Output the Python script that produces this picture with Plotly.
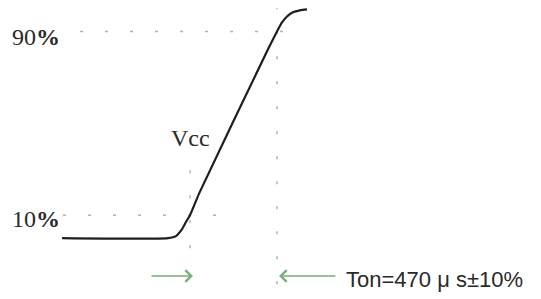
import plotly.graph_objects as go

# Rising edge of Vcc: time (us) vs level (% of Vcc)
t_us = [-691, -119, -76, -43, -22, 0, 50, 420, 470, 497, 524, 556, 594, 632]
vcc_pct = [0, 0, 0.9, 3.9, 7.0, 10, 19.6, 82, 90, 93.9, 96.5, 98.3, 99.2, 99.6]

# Guide levels / times
level_lo, level_hi = 10, 90
t_lo, t_hi = 0, 470
hguide_lo_x = [-686, 189]
hguide_hi_x = [-594, 600]
vguide_lo_y = [29.6, -6]
vguide_hi_y = [101, -26.5]

labels = ["90%", "10%", "Vcc"]
ton_text = "Ton=470 μ s±10%"

guide_col = "#aab5aa"
fig = go.Figure()

for xs, ys in [(hguide_hi_x, [level_hi, level_hi]), (hguide_lo_x, [level_lo, level_lo]),
               ([t_lo, t_lo], vguide_lo_y), ([t_hi, t_hi], vguide_hi_y)]:
    fig.add_trace(go.Scatter(x=xs, y=ys, mode="lines",
                             line=dict(color=guide_col, width=1.5, dash="3px,22px"),
                             hoverinfo="skip"))

fig.add_trace(go.Scatter(x=t_us, y=vcc_pct, mode="lines",
                         line=dict(color="#1e1e1e", width=2.2, shape="spline", smoothing=0.6)))

serif = "Liberation Serif"
fig.add_annotation(x=-832, y=87.5, text="90<b>%</b>", showarrow=False,
                   font=dict(family=serif, size=24, color="#2a2a2a"))
fig.add_annotation(x=-832, y=8.3, text="10<b>%</b>", showarrow=False,
                   font=dict(family=serif, size=24, color="#2a2a2a"))
fig.add_annotation(x=0, y=43.5, text=labels[2], showarrow=False,
                   font=dict(family=serif, size=24, color="#2a2a2a"))

arrow_col = "#7aae7a"
fig.add_annotation(x=16, y=-16.5, ax=-216, ay=-16.5, axref="x", ayref="y",
                   xref="x", yref="y", text="", showarrow=True,
                   arrowhead=4, arrowsize=1.6, arrowwidth=1.4, arrowcolor=arrow_col)
fig.add_annotation(x=481, y=-16.5, ax=794, ay=-16.5, axref="x", ayref="y",
                   xref="x", yref="y", text="", showarrow=True,
                   arrowhead=4, arrowsize=1.6, arrowwidth=1.4, arrowcolor=arrow_col)
fig.add_annotation(x=830, y=-17.8, text=ton_text, showarrow=False, xanchor="left",
                   font=dict(family="Liberation Sans", size=22, color="#2a2a2a"))

# page body has an 8px default margin, so the figure is sized to fit the window
fig.update_layout(width=533, height=291, margin=dict(l=0, r=0, t=0, b=0),
                  paper_bgcolor="white", plot_bgcolor="white", showlegend=False)
fig.update_xaxes(range=[-983.2, 1896.1], visible=False)
fig.update_yaxes(range=[-26.5, 100.2], visible=False)

fig.write_html("out.html")
